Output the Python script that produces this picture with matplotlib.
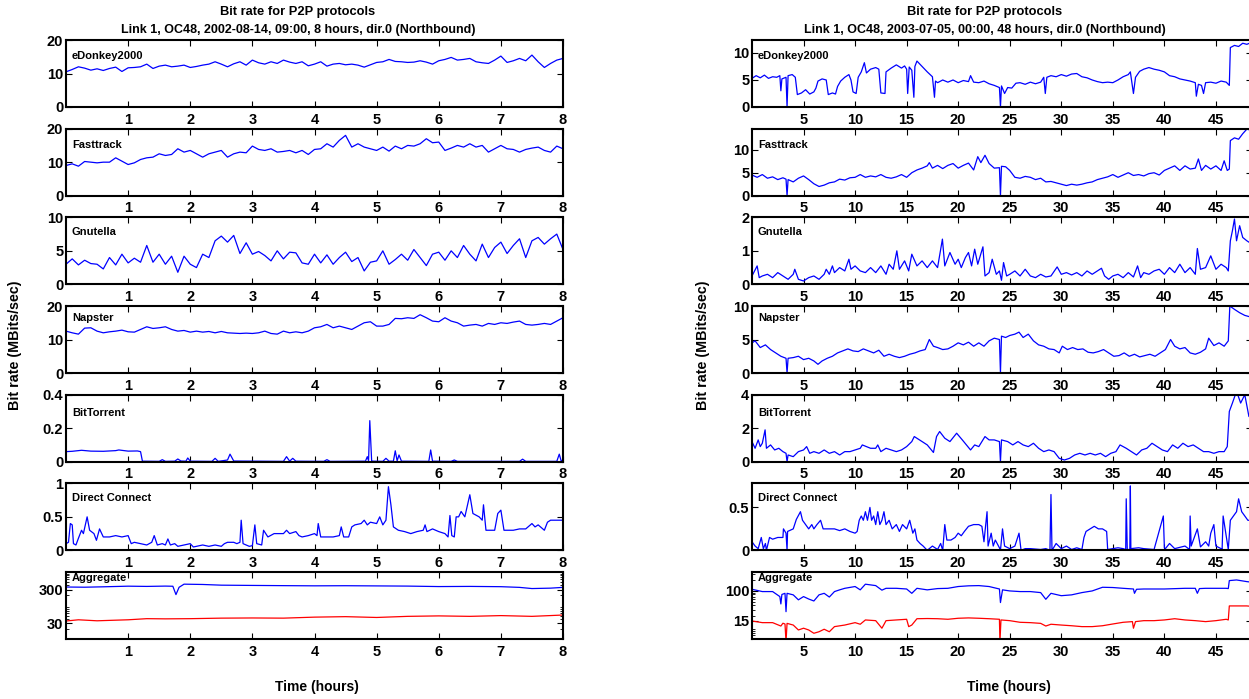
import numpy as np
import matplotlib
matplotlib.use("Agg")
import matplotlib.pyplot as plt
from matplotlib.ticker import FixedLocator, NullFormatter

plt.rcParams['font.family'] = ['Liberation Sans Narrow', 'Liberation Sans', 'DejaVu Sans']
plt.rcParams['font.weight'] = 'bold'

# ---------------- left column: 2002-08-14, 8 hours (samples every 0.1 h) ----------------
edonkey_L = [10.5, 11.2, 12.0, 11.6, 11.0, 11.4, 10.9, 11.5, 11.9, 10.6,
             11.7, 11.8, 12.0, 12.8, 11.5, 12.2, 12.5, 12.0, 12.2, 12.5,
             11.8, 12.1, 12.5, 12.8, 13.5, 12.8, 12.0, 12.9, 13.5, 12.5,
             14.0, 13.2, 12.8, 13.5, 13.0, 14.0, 13.4, 13.0, 13.5, 12.3,
             12.8, 13.5, 12.2, 12.8, 13.0, 12.6, 12.8, 12.5, 11.9, 12.6,
             13.3, 13.5, 14.2, 13.6, 13.5, 13.3, 13.4, 13.8, 13.4, 12.8,
             13.8, 14.2, 14.8, 14.0, 14.2, 14.5, 13.5, 13.2, 13.0, 14.0,
             15.2, 13.3, 13.8, 14.5, 13.8, 15.5, 13.5, 11.8, 13.0, 14.0, 14.5]
fasttrack_L = [9.0, 9.5, 8.8, 10.2, 10.0, 9.8, 10.0, 10.0, 11.3, 10.3,
               9.3, 9.8, 10.8, 11.3, 11.5, 12.5, 12.0, 12.3, 14.0, 13.0,
               13.5, 12.5, 11.5, 12.5, 13.0, 13.5, 11.5, 12.5, 13.0, 12.8,
               14.8, 13.8, 13.5, 14.0, 13.0, 13.2, 13.5, 12.8, 13.5, 12.3,
               13.8, 14.0, 15.5, 14.5, 16.5, 18.0, 14.5, 15.5, 14.5, 14.0,
               13.5, 14.5, 13.3, 14.8, 14.0, 15.0, 14.8, 15.5, 17.0, 15.8,
               16.0, 13.5, 14.2, 15.0, 14.5, 15.5, 14.5, 15.0, 13.0, 14.0,
               15.0, 14.0, 13.8, 13.0, 13.8, 14.2, 14.5, 13.5, 13.0, 14.8, 14.0]
gnutella_L = [3.0, 3.8, 2.9, 3.6, 3.1, 3.0, 2.3, 4.0, 2.9, 4.5,
              3.2, 3.9, 3.3, 5.8, 3.3, 4.5, 3.0, 4.2, 1.8, 4.2,
              3.0, 2.5, 4.5, 4.0, 6.5, 7.2, 6.3, 7.3, 4.6, 6.2,
              4.5, 4.9, 4.3, 3.5, 5.0, 3.8, 4.8, 4.7, 3.2, 3.0,
              4.5, 3.2, 4.4, 3.0, 4.0, 4.8, 3.4, 4.0, 2.0, 3.3,
              3.5, 5.0, 3.0, 3.7, 4.5, 3.6, 5.2, 4.0, 2.8, 4.5,
              4.8, 3.6, 5.0, 4.0, 5.8, 4.5, 3.5, 6.0, 4.0, 5.5,
              6.3, 4.6, 5.8, 6.8, 4.0, 6.5, 7.0, 6.0, 6.8, 7.5, 5.2]
napster_L = [12.5, 12.0, 11.6, 13.4, 13.5, 12.5, 12.0, 12.3, 12.5, 12.8,
             12.3, 12.2, 13.0, 13.8, 13.3, 13.5, 13.8, 13.0, 12.5, 12.7,
             12.2, 12.5, 12.2, 12.4, 12.0, 12.4, 12.0, 11.9, 11.8, 11.9,
             11.8, 12.0, 12.5, 11.8, 11.6, 12.5, 12.0, 12.3, 12.0, 12.5,
             13.5, 13.8, 14.5, 13.5, 14.0, 13.5, 13.0, 14.0, 15.0, 15.3,
             14.0, 14.0, 14.5, 16.3, 16.2, 16.5, 16.3, 17.4, 16.5, 15.5,
             15.3, 16.5, 15.5, 15.0, 14.0, 14.3, 14.5, 14.0, 14.8, 14.5,
             15.0, 14.8, 15.2, 15.5, 14.5, 14.3, 14.5, 14.8, 14.5, 15.5, 16.5]

bt_L_t = [0, 0.1, 0.25, 0.4, 0.6, 0.8, 0.85, 1.0, 1.15, 1.2, 1.23, 1.5, 1.55, 1.6,
          1.75, 1.8, 1.85, 1.93, 1.96, 2.0, 2.35, 2.4, 2.45, 2.6, 2.64, 2.7, 3.5,
          3.55, 3.6, 3.65, 3.7, 4.15, 4.2, 4.25, 4.82, 4.85, 4.87, 4.89, 4.92, 4.95,
          5.1, 5.15, 5.2, 5.27, 5.3, 5.33, 5.36, 5.4, 5.84, 5.87, 5.9, 6.2, 6.25,
          6.3, 7.3, 7.35, 7.4, 7.9, 7.94, 7.97, 8.0]
bt_L_v = [0.06, 0.062, 0.068, 0.063, 0.062, 0.066, 0.07, 0.063, 0.064, 0.06, 0.003,
          0.002, 0.012, 0.002, 0.003, 0.016, 0.004, 0.003, 0.022, 0.003, 0.002, 0.02,
          0.002, 0.01, 0.045, 0.004, 0.002, 0.03, 0.003, 0.02, 0.003, 0.002, 0.012,
          0.002, 0.003, 0.03, 0.005, 0.245, 0.004, 0.003, 0.002, 0.02, 0.003, 0.003,
          0.065, 0.005, 0.04, 0.003, 0.002, 0.07, 0.003, 0.002, 0.01, 0.002, 0.002,
          0.015, 0.002, 0.002, 0.045, 0.005, 0.01]

dc_L_t = [0, 0.04, 0.07, 0.1, 0.12, 0.16, 0.2, 0.25, 0.28, 0.34, 0.38, 0.45, 0.49,
          0.54, 0.6, 0.7, 0.8, 0.9, 1.0, 1.05, 1.1, 1.2, 1.3, 1.38, 1.42, 1.47, 1.55,
          1.6, 1.64, 1.68, 1.75, 1.8, 1.9, 2.0, 2.05, 2.2, 2.3, 2.4, 2.5, 2.55, 2.6,
          2.7, 2.75, 2.8, 2.82, 2.85, 2.95, 3.0, 3.04, 3.07, 3.15, 3.18, 3.25, 3.35,
          3.5, 3.55, 3.6, 3.7, 3.75, 3.8, 3.9, 4.0, 4.04, 4.06, 4.1, 4.3, 4.4, 4.43,
          4.47, 4.55, 4.6, 4.65, 4.75, 4.8, 4.85, 4.9, 5.0, 5.05, 5.1, 5.15, 5.19,
          5.23, 5.27, 5.35, 5.45, 5.55, 5.65, 5.75, 5.78, 5.81, 5.9, 6.0, 6.1, 6.15,
          6.18, 6.21, 6.25, 6.28, 6.32, 6.36, 6.42, 6.5, 6.55, 6.65, 6.7, 6.72, 6.76,
          6.9, 6.95, 7.0, 7.05, 7.2, 7.3, 7.4, 7.5, 7.55, 7.6, 7.7, 7.75, 7.8, 7.9, 8.0]
dc_L_v = [0.1, 0.12, 0.4, 0.38, 0.1, 0.08, 0.18, 0.3, 0.25, 0.5, 0.3, 0.25, 0.15,
          0.32, 0.2, 0.2, 0.22, 0.2, 0.22, 0.1, 0.12, 0.1, 0.08, 0.12, 0.22, 0.08,
          0.1, 0.08, 0.17, 0.08, 0.1, 0.06, 0.08, 0.1, 0.05, 0.08, 0.06, 0.08, 0.06,
          0.1, 0.12, 0.12, 0.1, 0.12, 0.45, 0.1, 0.06, 0.07, 0.38, 0.1, 0.08, 0.3,
          0.2, 0.25, 0.25, 0.3, 0.25, 0.28, 0.22, 0.2, 0.22, 0.25, 0.22, 0.4, 0.2,
          0.2, 0.22, 0.35, 0.2, 0.2, 0.35, 0.38, 0.4, 0.45, 0.38, 0.42, 0.4, 0.5,
          0.38, 0.45, 0.95, 0.68, 0.35, 0.3, 0.28, 0.25, 0.28, 0.3, 0.38, 0.28,
          0.32, 0.28, 0.25, 0.2, 0.52, 0.22, 0.2, 0.5, 0.5, 0.58, 0.5, 0.83, 0.55,
          0.5, 0.45, 0.68, 0.3, 0.3, 0.55, 0.6, 0.3, 0.3, 0.32, 0.32, 0.4, 0.35,
          0.38, 0.3, 0.42, 0.45, 0.45, 0.45]

agg_L_t = [0, 0.3, 0.6, 1.0, 1.3, 1.6, 1.72, 1.77, 1.82, 1.9, 2.2, 2.5, 3.0, 3.5,
           4.0, 4.5, 5.0, 5.5, 6.0, 6.5, 7.0, 7.3, 7.5, 7.8, 8.0]
agg_L_total = [357, 352, 362, 378, 372, 380, 376, 212, 350, 434, 425, 405, 398,
               392, 387, 390, 385, 380, 368, 372, 365, 348, 321, 330, 348]
agg_L_p2p_t = [0, 0.2, 0.5, 0.8, 1.0, 1.3, 1.6, 2.0, 2.5, 3.0, 3.5, 4.0, 4.5, 5.0,
               5.5, 6.0, 6.5, 7.0, 7.5, 8.0]
agg_L_p2p = [34.5, 37.5, 35.0, 36.5, 37.5, 40.5, 40.0, 40.5, 42.0, 42.5, 42.0,
             45.0, 46.5, 44.0, 47.5, 49.0, 47.5, 50.0, 47.5, 52.0]

# ---------------- right column: 2003-07-05, 48 hours ----------------
ed_R_t = [0, 0.4, 0.8, 1.2, 1.6, 2.0, 2.4, 2.7, 2.8, 2.9, 3.3, 3.4, 3.5, 3.9, 4.2,
          4.4, 4.8, 5.2, 5.6, 6.0, 6.2, 6.4, 6.8, 7.2, 7.4, 7.8, 8.1, 8.3, 8.6, 9.0,
          9.4, 9.6, 9.8, 10.1, 10.3, 10.6, 10.9, 11.1, 11.5, 12.0, 12.3, 12.5, 12.9,
          13.0, 13.5, 14.0, 14.5, 14.8, 15.0, 15.1, 15.25, 15.5, 15.7, 15.8, 16.0,
          16.5, 17.0, 17.5, 17.7, 17.8, 18.0, 18.5, 19.0, 19.5, 20.0, 20.5, 21.0,
          21.2, 21.5, 22.0, 22.5, 23.0, 23.5, 24.0, 24.1, 24.2, 24.5, 24.8, 25.2,
          25.6, 26.0, 26.5, 27.0, 27.5, 28.0, 28.3, 28.45, 28.6, 29.0, 29.5, 30.0,
          30.5, 31.0, 31.5, 32.0, 32.5, 33.0, 33.5, 34.0, 34.5, 35.0, 35.5, 36.0,
          36.5, 36.7, 37.0, 37.2, 37.6, 38.0, 38.5, 39.0, 39.5, 40.0, 40.5, 41.0,
          41.5, 42.0, 42.5, 43.0, 43.1, 43.3, 43.6, 43.8, 44.0, 44.5, 45.0, 45.5,
          46.0, 46.3, 46.4, 46.8, 47.2, 47.6, 48.0, 48.5]
ed_R_v = [5.3, 5.8, 5.4, 5.9, 5.3, 5.6, 5.5, 5.8, 3.0, 5.2, 5.5, 0.0, 5.8, 6.0, 5.5,
          2.3, 2.6, 3.2, 2.4, 2.8, 3.5, 4.8, 5.2, 5.0, 2.3, 2.6, 2.4, 3.8, 4.8, 5.5,
          6.0, 5.0, 2.8, 2.5, 5.5, 6.5, 8.2, 6.3, 7.0, 7.3, 7.0, 2.6, 2.5, 6.5, 7.2,
          7.8, 7.2, 7.6, 7.0, 2.5, 7.4, 6.8, 1.8, 7.5, 8.5, 7.5, 6.5, 5.6, 1.8, 4.8,
          4.5, 5.0, 4.6, 5.0, 4.5, 4.9, 4.7, 5.8, 4.6, 4.5, 4.8, 4.3, 4.0, 3.6, 0.0,
          3.9, 2.5, 3.6, 3.5, 4.4, 4.5, 4.2, 4.6, 4.3, 4.6, 5.5, 2.5, 5.5, 5.8, 5.6,
          6.0, 5.7, 6.1, 6.2, 5.6, 5.4, 5.0, 4.7, 4.5, 4.6, 4.5, 5.0, 5.6, 6.0, 6.5,
          2.5, 5.5, 6.6, 7.0, 7.3, 7.0, 6.8, 6.5, 5.8, 5.6, 5.2, 5.0, 4.8, 4.5, 2.0,
          4.2, 4.0, 2.5, 4.5, 4.6, 4.4, 4.8, 4.6, 4.0, 11.0, 11.4, 11.2, 11.8, 11.6, 12.0]

ft_R_t = [0, 0.5, 1.0, 1.5, 2.0, 2.5, 3.0, 3.3, 3.4, 3.5, 4.0, 4.5, 5.0, 5.5, 6.0,
          6.5, 7.0, 7.5, 8.0, 8.5, 9.0, 9.5, 10.0, 10.5, 11.0, 11.5, 12.0, 12.5,
          13.0, 13.5, 14.0, 14.5, 15.0, 15.5, 16.0, 16.5, 17.0, 17.2, 17.5, 18.0,
          18.5, 19.0, 19.5, 20.0, 20.5, 21.0, 21.5, 21.9, 22.2, 22.6, 23.0, 23.5,
          24.0, 24.1, 24.2, 24.6, 25.0, 25.5, 26.0, 26.5, 27.0, 27.5, 28.0, 28.5,
          29.0, 29.5, 30.0, 30.5, 31.0, 31.5, 32.0, 32.5, 33.0, 33.5, 34.0, 34.5,
          35.0, 35.5, 36.0, 36.5, 37.0, 37.5, 38.0, 38.5, 39.0, 39.5, 40.0, 40.5,
          41.0, 41.5, 42.0, 42.5, 43.0, 43.3, 43.6, 44.0, 44.5, 45.0, 45.5, 45.8,
          46.1, 46.3, 46.4, 46.8, 47.2, 47.6, 48.0, 48.5]
ft_R_v = [4.5, 4.0, 4.6, 3.8, 4.1, 3.5, 3.9, 3.6, 0.0, 3.5, 3.0, 3.8, 4.3, 3.5, 2.6,
          2.0, 2.3, 2.8, 3.0, 3.6, 3.4, 3.9, 4.0, 4.6, 4.0, 4.3, 4.1, 4.6, 4.0, 3.8,
          4.1, 4.6, 4.0, 5.0, 5.6, 6.0, 6.5, 7.2, 6.0, 6.6, 5.9, 6.6, 7.0, 6.0, 6.6,
          7.1, 5.6, 8.5, 7.2, 8.8, 7.0, 6.0, 6.1, 0.0, 6.4, 6.3, 5.5, 4.0, 3.8, 4.2,
          4.0, 3.5, 3.8, 3.0, 3.1, 2.8, 2.5, 2.2, 2.5, 2.3, 2.5, 2.8, 3.0, 3.5, 3.8,
          4.1, 4.6, 4.0, 4.5, 5.0, 4.4, 4.6, 4.3, 4.8, 5.0, 4.5, 5.5, 6.0, 6.5, 5.5,
          6.5, 5.8, 6.0, 8.0, 5.5, 6.6, 5.8, 6.5, 5.5, 7.6, 5.5, 5.8, 12.0, 12.6,
          12.3, 13.5, 14.5, 14.2]

gn_R_t = [0, 0.5, 0.7, 1.0, 1.5, 2.0, 2.5, 3.0, 3.5, 4.0, 4.15, 4.5, 5.0, 5.5, 6.0,
          6.5, 7.0, 7.2, 7.5, 7.8, 8.0, 8.5, 9.0, 9.4, 9.6, 10.0, 10.5, 11.0, 11.5,
          12.0, 12.5, 13.0, 13.3, 13.7, 14.05, 14.3, 14.8, 15.2, 15.5, 16.0, 16.5,
          17.0, 17.5, 18.0, 18.47, 18.7, 19.2, 19.7, 20.0, 20.3, 20.7, 21.0, 21.3,
          21.6, 21.9, 22.4, 22.6, 23.0, 23.3, 23.7, 24.0, 24.2, 24.4, 24.7, 25.0,
          25.5, 26.0, 26.5, 27.0, 27.5, 28.0, 28.5, 29.0, 29.6, 30.0, 30.5, 31.0,
          31.5, 32.0, 32.5, 33.0, 33.9, 34.2, 34.6, 35.0, 35.5, 36.0, 36.5, 37.0,
          37.4, 37.7, 38.0, 38.5, 39.0, 39.5, 40.0, 40.5, 41.0, 41.5, 42.0, 42.5,
          43.0, 43.2, 43.5, 44.0, 44.5, 45.0, 45.5, 46.0, 46.2, 46.4, 46.6, 46.8,
          47.0, 47.3, 47.6, 48.0, 48.5]
gn_R_v = [0.25, 0.55, 0.2, 0.25, 0.3, 0.2, 0.35, 0.25, 0.15, 0.3, 0.45, 0.15, 0.1,
          0.2, 0.25, 0.15, 0.3, 0.45, 0.3, 0.55, 0.35, 0.5, 0.4, 0.75, 0.45, 0.55,
          0.4, 0.35, 0.5, 0.35, 0.55, 0.3, 0.6, 0.45, 1.0, 0.45, 0.7, 0.4, 0.9, 0.55,
          0.7, 0.5, 0.7, 0.5, 1.35, 0.55, 0.95, 0.6, 0.75, 0.5, 0.8, 0.95, 0.55,
          1.05, 0.6, 1.12, 0.25, 0.35, 0.75, 0.3, 0.4, 0.12, 0.65, 0.25, 0.3, 0.4,
          0.25, 0.45, 0.25, 0.2, 0.3, 0.22, 0.25, 0.52, 0.3, 0.35, 0.28, 0.35, 0.25,
          0.4, 0.3, 0.48, 0.25, 0.15, 0.25, 0.3, 0.2, 0.35, 0.22, 0.55, 0.2, 0.35,
          0.3, 0.4, 0.45, 0.3, 0.5, 0.35, 0.6, 0.35, 0.5, 0.3, 1.07, 0.45, 0.5, 0.85,
          0.45, 0.6, 0.5, 0.4, 1.3, 1.6, 1.95, 1.3, 1.75, 1.4, 1.3, 1.2]

na_R_t = [0, 0.3, 0.8, 1.3, 1.8, 2.3, 2.8, 3.3, 3.4, 3.5, 4.0, 4.5, 5.0, 5.5, 6.0,
          6.4, 6.8, 7.3, 7.8, 8.3, 8.8, 9.3, 9.8, 10.3, 10.8, 11.3, 11.8, 12.3,
          12.8, 13.3, 13.8, 14.3, 14.8, 15.3, 15.8, 16.3, 16.8, 17.2, 17.6, 18.0,
          18.5, 19.0, 19.5, 20.0, 20.5, 21.0, 21.5, 22.0, 22.5, 23.0, 23.5, 24.0,
          24.1, 24.2, 24.6, 25.0, 25.5, 25.9, 26.3, 26.8, 27.3, 27.8, 28.3, 28.8,
          29.3, 29.8, 30.1, 30.6, 31.1, 31.6, 32.1, 32.6, 33.1, 33.6, 34.1, 34.6,
          35.1, 35.6, 36.1, 36.6, 37.1, 37.6, 38.1, 38.6, 39.1, 39.6, 40.1, 40.6,
          41.0, 41.5, 42.0, 42.5, 43.0, 43.5, 44.0, 44.3, 44.8, 45.3, 45.8, 46.2,
          46.35, 46.8, 47.3, 47.8, 48.5]
na_R_v = [4.5, 4.8, 3.8, 4.2, 3.5, 3.0, 2.5, 2.2, 0.0, 2.2, 2.3, 2.5, 2.0, 2.2, 1.8,
          1.3, 1.8, 2.2, 2.5, 3.0, 3.3, 3.6, 3.3, 3.2, 3.6, 3.3, 3.0, 3.4, 2.5, 2.8,
          2.5, 2.3, 2.5, 2.8, 3.0, 3.3, 3.5, 5.0, 4.0, 3.8, 3.5, 3.6, 4.0, 4.5, 4.2,
          4.6, 4.0, 4.5, 4.0, 4.8, 5.2, 5.0, 0.0, 5.5, 5.3, 5.6, 5.8, 6.1, 5.3, 5.8,
          4.8, 4.2, 4.0, 3.6, 3.5, 3.0, 4.0, 3.5, 3.8, 3.5, 3.6, 3.1, 3.0, 3.2, 3.5,
          3.0, 2.5, 2.6, 3.0, 2.5, 2.8, 2.4, 2.6, 2.8, 2.5, 3.0, 3.5, 5.0, 4.0, 3.6,
          3.8, 3.0, 2.8, 3.1, 3.6, 5.2, 4.1, 4.5, 4.0, 4.8, 10.0, 9.5, 9.0, 8.6, 8.3]

bt_R_t = [0, 0.3, 0.6, 0.8, 1.0, 1.27, 1.4, 1.8, 2.2, 2.6, 3.0, 3.3, 3.4, 3.5, 4.0,
          4.5, 5.0, 5.3, 5.6, 6.0, 6.5, 7.0, 7.5, 8.0, 8.5, 9.0, 9.5, 10.0, 10.5,
          10.7, 11.5, 12.0, 12.2, 12.5, 13.0, 13.5, 14.0, 14.5, 15.0, 15.5, 15.74,
          16.5, 17.0, 17.6, 17.9, 18.2, 18.7, 19.2, 19.85, 20.4, 20.8, 21.2, 21.6,
          22.0, 22.6, 23.0, 23.5, 24.0, 24.1, 24.2, 24.8, 25.3, 25.8, 26.3, 26.8,
          27.3, 27.8, 28.3, 28.8, 29.3, 29.8, 30.3, 30.8, 31.3, 31.8, 32.3, 32.8,
          33.3, 33.8, 34.3, 34.8, 35.3, 35.7, 36.3, 36.8, 37.3, 37.8, 38.3, 38.8,
          39.3, 39.8, 40.3, 40.8, 41.3, 41.8, 42.3, 42.8, 43.3, 43.8, 44.3, 44.8,
          45.3, 45.8, 46.1, 46.3, 46.6, 47.0, 47.4, 47.8, 48.2, 48.5]
bt_R_v = [1.2, 0.8, 1.3, 0.9, 1.1, 1.9, 0.8, 1.0, 0.7, 0.8, 0.6, 0.5, 0.0, 0.4, 0.3,
          0.6, 0.7, 0.9, 0.5, 0.6, 0.5, 0.7, 0.5, 0.6, 0.4, 0.6, 0.6, 0.7, 0.8, 1.0,
          0.8, 0.8, 1.0, 0.6, 0.8, 0.7, 0.6, 0.7, 0.9, 1.2, 1.5, 1.2, 1.0, 0.55, 1.5,
          1.8, 1.4, 1.2, 1.7, 1.3, 1.0, 0.7, 1.0, 0.9, 1.5, 1.3, 1.3, 1.2, 0.0, 1.3,
          1.2, 1.0, 1.2, 1.0, 0.9, 1.1, 0.8, 0.6, 0.7, 0.6, 0.2, 0.1, 0.2, 0.4, 0.5,
          0.4, 0.5, 0.4, 0.5, 0.3, 0.5, 0.6, 1.0, 0.8, 0.6, 0.4, 0.7, 0.8, 1.1, 0.9,
          0.7, 0.6, 1.0, 0.8, 1.1, 0.9, 1.0, 0.8, 0.6, 0.6, 0.5, 0.6, 0.6, 0.9, 3.0,
          3.5, 4.2, 3.5, 4.0, 2.7, 2.6]

dc_R_t = [0, 0.3, 0.6, 0.9, 1.1, 1.3, 1.4, 1.7, 2.0, 2.5, 3.0, 3.05, 3.3, 3.4, 3.45,
          4.0, 4.3, 4.7, 4.9, 5.2, 5.5, 5.8, 6.0, 6.3, 6.65, 6.9, 7.5, 8.0, 8.5, 9.0,
          9.5, 10.0, 10.2, 10.4, 10.6, 10.8, 11.0, 11.2, 11.44, 11.6, 11.8, 12.0, 12.2, 12.4, 12.6,
          12.8, 13.0, 13.3, 13.6, 14.0, 14.3, 14.6, 15.0, 15.3, 15.6, 15.8, 16.0, 16.3, 16.6, 17.0,
          17.5, 18.0, 18.3, 18.5, 18.7, 18.9, 19.3, 19.7, 20.0, 20.3, 20.6, 21.0, 21.5, 22.0, 22.3,
          22.5, 22.8, 22.9, 23.2, 23.4, 23.6, 24.0, 24.1, 24.3, 24.5, 25.0, 25.5, 25.9, 26.1, 26.5,
          27.0, 28.0, 28.5, 28.9, 29.0, 29.1, 29.5, 30.0, 30.5, 31.0, 31.5, 32.0, 32.2, 32.4, 32.8,
          33.2, 33.6, 34.0, 34.4, 34.5, 35.0, 35.5, 36.0, 36.25, 36.3, 36.4, 36.65, 36.7,
          36.75, 37.5, 38.0, 39.0, 39.9, 40.0, 40.1, 40.5, 41.0, 42.0, 42.45, 42.5, 42.6,
          43.2, 43.5, 44.0, 44.3, 44.5, 44.8, 45.0, 45.5, 45.6, 45.7, 46.2, 46.4, 46.7,
          47.0, 47.2, 47.5, 47.8, 48.1, 48.5]
dc_R_v = [0.1, 0.05, 0.02, 0.15, 0.02, 0.08, 0.0, 0.15, 0.13, 0.15, 0.15, 0.25, 0.2, 0.0, 0.22,
          0.25, 0.36, 0.45, 0.35, 0.3, 0.25, 0.3, 0.25, 0.3, 0.35, 0.25, 0.25, 0.25, 0.23, 0.25,
          0.22, 0.2, 0.22, 0.35, 0.4, 0.35, 0.45, 0.35, 0.5, 0.35, 0.4, 0.3, 0.45, 0.3, 0.35,
          0.45, 0.3, 0.35, 0.25, 0.3, 0.22, 0.3, 0.25, 0.35, 0.2, 0.25, 0.12, 0.08, 0.05, 0.0,
          0.05, 0.01, 0.08, 0.0, 0.3, 0.12, 0.12, 0.15, 0.2, 0.17, 0.22, 0.28, 0.3, 0.3, 0.28,
          0.1, 0.45, 0.05, 0.2, 0.05, 0.12, 0.03, 0.0, 0.25, 0.05, 0.02, 0.05, 0.2, 0.0, 0.02,
          0.02, 0.01, 0.02, 0.0, 0.65, 0.0, 0.08, 0.02, 0.05, 0.01, 0.03, 0.01, 0.15, 0.22, 0.25,
          0.28, 0.25, 0.25, 0.22, 0.01, 0.02, 0.03, 0.02, 0.01, 0.6, 0.01, 0.01, 0.75,
          0.02, 0.03, 0.02, 0.01, 0.4, 0.03, 0.02, 0.08, 0.02, 0.05, 0.01, 0.4, 0.05,
          0.25, 0.04, 0.1, 0.05, 0.2, 0.3, 0.05, 0.02, 0.01, 0.4, 0.01, 0.35, 0.4,
          0.45, 0.6, 0.45, 0.4, 0.35, 0.35]

agg_R_t = [0, 1.0, 2.0, 2.7, 2.8, 2.9, 3.2, 3.3, 3.4, 4.0, 4.5, 5.0, 5.5, 6.0, 6.5,
           7.0, 7.5, 8.0, 8.5, 9.0, 10.0, 10.5, 11.0, 12.0, 12.6, 13.0, 14.0, 15.0,
           15.5, 16.0, 17.0, 18.0, 19.0, 20.0, 21.0, 22.0, 23.0, 24.0, 24.1, 24.3,
           25.0, 26.0, 27.0, 28.0, 28.5, 29.0, 30.0, 31.0, 32.0, 33.0, 34.0, 35.0,
           36.0, 37.0, 37.1, 37.3, 38.0, 40.0, 42.0, 43.0, 43.2, 43.4, 44.0, 46.0,
           46.2, 46.3, 47.0, 48.0, 48.5]
agg_R_total = [111, 96, 96, 70, 44, 80, 86, 27, 86, 78, 57, 70, 60, 53, 78, 86, 68,
               96, 107, 118, 132, 107, 153, 140, 105, 118, 118, 113, 86, 118, 107,
               116, 118, 132, 138, 140, 132, 113, 48, 107, 100, 96, 96, 90, 59, 86,
               74, 78, 90, 100, 126, 124, 118, 113, 86, 111, 113, 113, 118, 118, 86,
               116, 118, 118, 116, 192, 200, 180, 173]
agg_R_p2p_t = [0, 1.0, 2.0, 2.8, 3.0, 3.2, 3.3, 3.4, 4.0, 4.5, 5.0, 5.5, 6.0, 6.5,
               7.0, 7.5, 8.0, 9.0, 10.0, 10.5, 11.0, 12.0, 12.6, 12.8, 13.0, 14.0,
               15.0, 15.2, 15.5, 16.0, 17.0, 18.0, 19.0, 20.0, 21.0, 22.0, 23.0, 24.0,
               24.05, 24.15, 25.0, 26.0, 27.0, 28.0, 28.5, 29.0, 30.0, 31.0, 32.0,
               33.0, 34.0, 35.0, 36.0, 36.9, 37.0, 37.2, 38.0, 39.0, 40.0, 41.0, 42.0,
               43.0, 44.0, 45.0, 46.0, 46.2, 46.3, 47.0, 48.0, 48.5]
agg_R_p2p = [15.0, 13.5, 13.5, 10.9, 13.0, 12.4, 4.0, 12.9, 11.6, 8.5, 9.5, 8.5, 6.9,
             7.6, 8.9, 7.6, 10.5, 11.6, 13.5, 12.2, 16.0, 15.3, 9.5, 12.0, 15.3, 16.0,
             16.7, 10.5, 11.6, 17.3, 17.5, 17.3, 16.7, 17.8, 18.2, 17.8, 17.3, 16.7,
             4.0, 16.0, 15.3, 13.8, 13.5, 12.9, 10.9, 12.2, 11.6, 11.1, 10.5, 10.5,
             11.1, 12.4, 13.8, 14.4, 9.5, 14.4, 15.3, 15.3, 16.0, 17.3, 16.0, 15.3,
             14.4, 15.3, 16.7, 16.0, 38.8, 38.8, 38.8, 37.6]

W, H = 1249, 699
fig = plt.figure(figsize=(W / 100, H / 100), dpi=100)


def make_ax(x0, top, width, height=67):
    return fig.add_axes([x0 / W, 1 - (top + height) / H, width / W, height / H])


def style(ax, xmax, xticks):
    ax.set_xlim(0, xmax)
    ax.set_xticks(xticks)
    ax.set_xticklabels([str(v) for v in xticks])
    ax.tick_params(direction='in', top=True, right=True, length=4, width=0.8,
                   labelsize=10.5, pad=4)
    ax.tick_params(axis='y', pad=2)
    for s in ax.spines.values():
        s.set_linewidth(1.5)


def label(ax, text, dy):
    ax.text(6 / ax.bbox.width, 1 - dy / 67, text, transform=ax.transAxes,
            fontsize=8.0, va='center', ha='left')


tops = [40 + i * 88.67 for i in range(7)]
names = ['eDonkey2000', 'Fasttrack', 'Gnutella', 'Napster', 'BitTorrent',
         'Direct Connect', 'Aggregate']
name_dy = [16, 16, 15, 12, 18, 15, 6]

# ---- left column ----
left_x0, left_w = 66, 497
left_series = [
    (np.linspace(0, 8, len(edonkey_L)), edonkey_L, (0, 20), [0, 10, 20]),
    (np.linspace(0, 8, len(fasttrack_L)), fasttrack_L, (0, 20), [0, 10, 20]),
    (np.linspace(0, 8, len(gnutella_L)), gnutella_L, (0, 10), [0, 5, 10]),
    (np.linspace(0, 8, len(napster_L)), napster_L, (0, 20), [0, 10, 20]),
    (bt_L_t, bt_L_v, (0, 0.4), [0, 0.2, 0.4]),
    (dc_L_t, dc_L_v, (0, 1), [0, 0.5, 1]),
]
for i, (t, v, yl, yt) in enumerate(left_series):
    ax = make_ax(left_x0, tops[i], left_w)
    ax.plot(t, v, color='blue', lw=0.9)
    ax.set_ylim(*yl)
    ax.set_yticks(yt)
    ax.set_yticklabels([('%g' % y) for y in yt])
    style(ax, 8, list(range(1, 9)))
    label(ax, names[i], name_dy[i])

ax = make_ax(left_x0, tops[6], left_w)
ax.semilogy(agg_L_t, agg_L_total, color='blue', lw=0.9)
ax.semilogy(agg_L_p2p_t, agg_L_p2p, color='red', lw=0.9)
ax.set_ylim(10, 1000)
ax.yaxis.set_major_locator(FixedLocator([30, 300]))
ax.set_yticklabels(['30', '300'])
ax.yaxis.set_minor_formatter(NullFormatter())
style(ax, 8, list(range(1, 9)))
ax.tick_params(which='minor', direction='in', right=True, length=2.5, width=0.6)
label(ax, names[6], name_dy[6])

# ---- right column ----
right_x0, right_w = 752, 500
rticks = [5, 10, 15, 20, 25, 30, 35, 40, 45]
right_series = [
    (ed_R_t, ed_R_v, (0, 12.4), [0, 5, 10]),
    (ft_R_t, ft_R_v, (0, 14.6), [0, 5, 10]),
    (gn_R_t, gn_R_v, (0, 2), [0, 1, 2]),
    (na_R_t, na_R_v, (0, 10), [0, 5, 10]),
    (bt_R_t, bt_R_v, (0, 4), [0, 2, 4]),
    (dc_R_t, dc_R_v, (0, 0.78), [0, 0.5]),
]
for i, (t, v, yl, yt) in enumerate(right_series):
    ax = make_ax(right_x0, tops[i], right_w)
    ax.plot(t, v, color='blue', lw=0.9)
    ax.set_ylim(*yl)
    ax.set_yticks(yt)
    ax.set_yticklabels([('%g' % y) for y in yt])
    style(ax, 48.5, rticks)
    label(ax, names[i], name_dy[i])

ax = make_ax(right_x0, tops[6], right_w)
ax.semilogy(agg_R_t, agg_R_total, color='blue', lw=0.9)
ax.semilogy(agg_R_p2p_t, agg_R_p2p, color='red', lw=0.9)
ax.set_ylim(4.8, 330)
ax.yaxis.set_major_locator(FixedLocator([15, 100]))
ax.set_yticklabels(['15', '100'])
ax.yaxis.set_minor_formatter(NullFormatter())
style(ax, 48.5, rticks)
ax.tick_params(which='minor', direction='in', right=True, length=2.5, width=0.6)
label(ax, names[6], name_dy[6])

# ---- titles and axis labels ----
fig.text(298 / W, 1 - 12 / H, 'Bit rate for P2P protocols', ha='center', va='center', fontsize=9.3)
fig.text(298 / W, 1 - 30 / H, 'Link 1, OC48, 2002-08-14, 09:00, 8 hours, dir.0 (Northbound)',
         ha='center', va='center', fontsize=9.0)
fig.text(985 / W, 1 - 12 / H, 'Bit rate for P2P protocols', ha='center', va='center', fontsize=9.3)
fig.text(985 / W, 1 - 30 / H, 'Link 1, OC48, 2003-07-05, 00:00, 48 hours, dir.0 (Northbound)',
         ha='center', va='center', fontsize=9.0)

for x in (15, 703):
    fig.text(x / W, 1 - 345 / H, 'Bit rate (MBits/sec)', rotation=90, ha='center',
             va='center', fontsize=10.3, family=['Liberation Sans', 'DejaVu Sans'])
fig.text(317 / W, 1 - 687 / H, 'Time (hours)', ha='center', va='center', fontsize=10)
fig.text(1009 / W, 1 - 687 / H, 'Time (hours)', ha='center', va='center', fontsize=10)

fig.savefig('out.png', dpi=100)
